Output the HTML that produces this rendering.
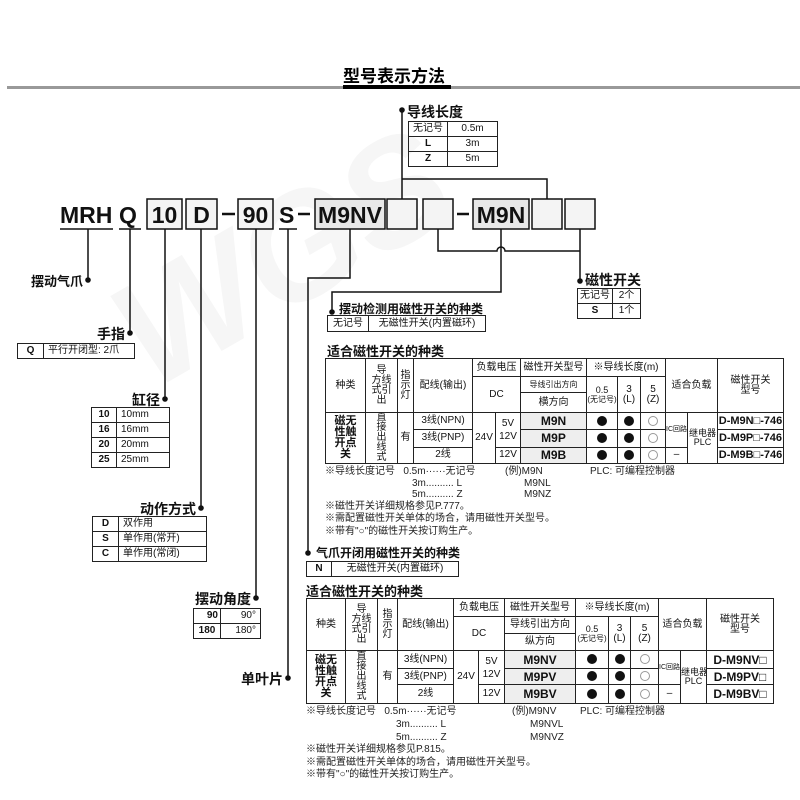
<!DOCTYPE html>
<html><head><meta charset="utf-8"><style>
*{margin:0;padding:0;box-sizing:border-box}
body{width:800px;height:800px;background:#fff;position:relative;overflow:hidden;font-family:"Liberation Sans","Noto Sans CJK SC",sans-serif;color:#111}
svg.l{position:absolute;left:0;top:0}
table{position:absolute;border-collapse:collapse;table-layout:fixed;font-size:10px;line-height:1}
td{border:1px solid #222;text-align:center;vertical-align:middle;padding:0;overflow:hidden;white-space:nowrap}
td.b{font-weight:bold}
td.l{text-align:left;padding-left:4px}
td.r{text-align:right;padding-right:4px}
.t{position:absolute;white-space:nowrap;font-size:10px;line-height:12px;color:#222}
.big td{font-size:10px}
.sh{background:#eee}
i.f,i.o{display:inline-block;width:10px;height:10px;border-radius:50%;vertical-align:middle}
i.f{background:#111}
i.o{border:1px solid #999}
</style></head><body>
<svg class="l" width="800" height="800" viewBox="0 0 800 800">
<g fill="#f6f6f6" font-family="Liberation Sans" font-weight="bold" font-style="italic">
<text x="120" y="330" font-size="150" transform="rotate(-30 250 300)">WGS</text>
</g>
<rect x="7" y="86" width="793" height="3" fill="#999"/>
<rect x="343" y="85" width="108" height="4" fill="#000"/>
<text x="343" y="82" font-size="17" font-weight="bold" font-family="Liberation Sans,Noto Sans CJK SC,sans-serif">型号表示方法</text>
<g font-family="Liberation Sans,sans-serif" font-weight="bold" font-size="23" fill="#111">
<rect x="147" y="199" width="35" height="30" fill="#f4f4f4" stroke="#111" stroke-width="1.5"/>
<rect x="186" y="199" width="31" height="30" fill="#f4f4f4" stroke="#111" stroke-width="1.5"/>
<rect x="238" y="199" width="35" height="30" fill="#f4f4f4" stroke="#111" stroke-width="1.5"/>
<rect x="315" y="199" width="70" height="30" fill="#e8e8e8" stroke="#111" stroke-width="1.5"/>
<rect x="387" y="199" width="30" height="30" fill="#f4f4f4" stroke="#111" stroke-width="1.5"/>
<rect x="423" y="199" width="30" height="30" fill="#f4f4f4" stroke="#111" stroke-width="1.5"/>
<rect x="473" y="199" width="56" height="30" fill="#e8e8e8" stroke="#111" stroke-width="1.5"/>
<rect x="532" y="199" width="30" height="30" fill="#f4f4f4" stroke="#111" stroke-width="1.5"/>
<rect x="565" y="199" width="30" height="30" fill="#f4f4f4" stroke="#111" stroke-width="1.5"/>
<text x="60" y="223">MRH</text>
<text x="119" y="223">Q</text>
<text x="164.5" y="223" text-anchor="middle">10</text>
<text x="201.5" y="223" text-anchor="middle">D</text>
<text x="255.5" y="223" text-anchor="middle">90</text>
<text x="279" y="223">S</text>
<text x="350" y="223" text-anchor="middle">M9NV</text>
<text x="501" y="223" text-anchor="middle">M9N</text>
</g>
<g stroke="#111" stroke-width="2.5">
<line x1="222" y1="214" x2="235" y2="214"/>
<line x1="298" y1="214" x2="310" y2="214"/>
<line x1="457" y1="214" x2="469" y2="214"/>
</g>
<g stroke="#111" stroke-width="1.5" fill="none">
<line x1="60" y1="229" x2="113" y2="229"/>
<line x1="119" y1="229" x2="141" y2="229"/>
<line x1="279" y1="229" x2="297" y2="229"/>
<line x1="88" y1="229" x2="88" y2="280"/>
<line x1="130" y1="229" x2="130" y2="333"/>
<line x1="165" y1="229" x2="165" y2="399"/>
<line x1="201" y1="229" x2="201" y2="508"/>
<line x1="256" y1="229" x2="256" y2="598"/>
<line x1="288" y1="229" x2="288" y2="678"/>
<path d="M350 229V278H308V553"/>
<path d="M402 110V199M402 179H547V199"/>
<path d="M438 229V251H497a4 4 0 0 1 8 0H580M580 229V281"/>
<path d="M501 229V292H332V312"/>
</g>
<g fill="#111">
<circle cx="88" cy="280" r="2.8"/><circle cx="130" cy="333" r="2.8"/><circle cx="165" cy="399" r="2.8"/>
<circle cx="201" cy="508" r="2.8"/><circle cx="256" cy="598" r="2.8"/><circle cx="288" cy="678" r="2.8"/>
<circle cx="308" cy="553" r="2.8"/><circle cx="402" cy="110" r="2.8"/><circle cx="580" cy="281" r="2.8"/>
<circle cx="332" cy="312" r="2.8"/>
</g>
<g font-family="Liberation Sans,Noto Sans CJK SC,sans-serif" font-weight="bold" fill="#111">
<text x="83" y="286" font-size="13" text-anchor="end">摆动气爪</text>
<text x="125" y="339" font-size="14" text-anchor="end">手指</text>
<text x="160" y="405" font-size="14" text-anchor="end">缸径</text>
<text x="196" y="514" font-size="14" text-anchor="end">动作方式</text>
<text x="251" y="604" font-size="14" text-anchor="end">摆动角度</text>
<text x="283" y="684" font-size="14" text-anchor="end">单叶片</text>
<text x="407" y="117" font-size="14">导线长度</text>
<text x="585" y="285" font-size="14">磁性开关</text>
<text x="339" y="313" font-size="12">摆动检测用磁性开关的种类</text>
<text x="316" y="557" font-size="12">气爪开闭用磁性开关的种类</text>
<text x="327" y="356" font-size="13">适合磁性开关的种类</text>
<text x="306" y="596" font-size="13">适合磁性开关的种类</text>
</g>
</svg>

<table style="left:17px;top:343px;width:117px"><col style="width:26px"><col style="width:91px"><tr style="height:15px"><td class="b">Q</td><td class="l">平行开闭型: 2爪</td></tr></table>
<table style="left:91px;top:407px;width:78px"><col style="width:25px"><col style="width:53px">
<tr style="height:15px"><td class="b">10</td><td class="l">10mm</td></tr><tr style="height:15px"><td class="b">16</td><td class="l">16mm</td></tr><tr style="height:15px"><td class="b">20</td><td class="l">20mm</td></tr><tr style="height:15px"><td class="b">25</td><td class="l">25mm</td></tr></table>
<table style="left:92px;top:516px;width:114px"><col style="width:26px"><col style="width:88px">
<tr style="height:15px"><td class="b">D</td><td class="l">双作用</td></tr><tr style="height:15px"><td class="b">S</td><td class="l">单作用(常开)</td></tr><tr style="height:15px"><td class="b">C</td><td class="l">单作用(常闭)</td></tr></table>
<table style="left:193px;top:608px;width:67px"><col style="width:27px"><col style="width:40px">
<tr style="height:15px"><td class="b r" style="padding-right:2px">90</td><td class="r">90°</td></tr><tr style="height:15px"><td class="b">180</td><td class="r">180°</td></tr></table>
<table style="left:408px;top:121px;width:89px"><col style="width:39px"><col style="width:50px">
<tr style="height:15px"><td>无记号</td><td>0.5m</td></tr><tr style="height:15px"><td class="b">L</td><td>3m</td></tr><tr style="height:15px"><td class="b">Z</td><td>5m</td></tr></table>
<table style="left:577px;top:288px;width:63px"><col style="width:35px"><col style="width:28px">
<tr style="height:15px"><td>无记号</td><td>2个</td></tr><tr style="height:15px"><td class="b">S</td><td>1个</td></tr></table>
<table style="left:327px;top:315px;width:158px"><col style="width:41px"><col style="width:117px">
<tr style="height:16px"><td>无记号</td><td>无磁性开关(内置磁环)</td></tr></table>
<table style="left:306px;top:561px;width:152px"><col style="width:25px"><col style="width:127px">
<tr style="height:15px"><td class="b">N</td><td>无磁性开关(内置磁环)</td></tr></table>

<table class="big" style="left:325px;top:358px;width:458px">
<col style="width:40px"><col style="width:32px"><col style="width:16px"><col style="width:59px"><col style="width:23px"><col style="width:25px"><col style="width:66px"><col style="width:31px"><col style="width:23px"><col style="width:25px"><col style="width:22px"><col style="width:30px"><col style="width:66px">
<tr style="height:18px"><td rowspan="3">种类</td><td rowspan="3" style="line-height:10px">导<br>方线<br>式引<br>出</td><td rowspan="3" style="line-height:10px">指<br>示<br>灯</td><td rowspan="3">配线(输出)</td><td colspan="2">负载电压</td><td>磁性开关型号</td><td colspan="3">※导线长度(m)</td><td colspan="2" rowspan="3">适合负载</td><td rowspan="3">磁性开关<br>型号</td></tr>
<tr style="height:16px"><td colspan="2" rowspan="2">DC</td><td style="font-size:8px">导线引出方向</td><td rowspan="2" style="font-size:9px">0.5<br><span style="font-size:8px">(无记号)</span></td><td rowspan="2">3<br>(L)</td><td rowspan="2">5<br>(Z)</td></tr>
<tr style="height:20px"><td>横方向</td></tr>
<tr style="height:17px"><td rowspan="3" class="b" style="font-size:11px;line-height:11px">磁无<br>性触<br>开点<br>关</td><td rowspan="3" style="line-height:10px">直<br>接<br>出<br>线<br>式</td><td rowspan="3">有</td><td>3线(NPN)</td><td rowspan="3">24V</td><td rowspan="2" style="line-height:13px">5V<br>12V</td><td class="b sh" style="font-size:12px">M9N</td><td><i class="f"></i></td><td><i class="f"></i></td><td><i class="o"></i></td><td rowspan="2" style="font-size:7px">IC回路</td><td rowspan="3" style="font-size:9px">继电器<br>PLC</td><td class="b" style="font-size:11px">D-M9N□-746</td></tr>
<tr style="height:17px"><td>3线(PNP)</td><td class="b sh" style="font-size:12px">M9P</td><td><i class="f"></i></td><td><i class="f"></i></td><td><i class="o"></i></td><td class="b" style="font-size:11px">D-M9P□-746</td></tr>
<tr style="height:16px"><td>2线</td><td>12V</td><td class="b sh" style="font-size:12px">M9B</td><td><i class="f"></i></td><td><i class="f"></i></td><td><i class="o"></i></td><td>–</td><td class="b" style="font-size:11px">D-M9B□-746</td></tr>
</table>

<table class="big" style="left:306px;top:598px;width:467px">
<col style="width:39px"><col style="width:32px"><col style="width:20px"><col style="width:56px"><col style="width:25px"><col style="width:26px"><col style="width:71px"><col style="width:33px"><col style="width:22px"><col style="width:28px"><col style="width:22px"><col style="width:26px"><col style="width:67px">
<tr style="height:18px"><td rowspan="3">种类</td><td rowspan="3" style="line-height:10px">导<br>方线<br>式引<br>出</td><td rowspan="3" style="line-height:10px">指<br>示<br>灯</td><td rowspan="3">配线(输出)</td><td colspan="2">负载电压</td><td>磁性开关型号</td><td colspan="3">※导线长度(m)</td><td colspan="2" rowspan="3">适合负载</td><td rowspan="3">磁性开关<br>型号</td></tr>
<tr style="height:17px"><td colspan="2" rowspan="2">DC</td><td>导线引出方向</td><td rowspan="2" style="font-size:9px">0.5<br><span style="font-size:8px">(无记号)</span></td><td rowspan="2">3<br>(L)</td><td rowspan="2">5<br>(Z)</td></tr>
<tr style="height:17px"><td>纵方向</td></tr>
<tr style="height:18px"><td rowspan="3" class="b" style="font-size:11px;line-height:11px">磁无<br>性触<br>开点<br>关</td><td rowspan="3" style="line-height:10px">直<br>接<br>出<br>线<br>式</td><td rowspan="3">有</td><td>3线(NPN)</td><td rowspan="3">24V</td><td rowspan="2" style="line-height:13px">5V<br>12V</td><td class="b sh" style="font-size:12px">M9NV</td><td><i class="f"></i></td><td><i class="f"></i></td><td><i class="o"></i></td><td rowspan="2" style="font-size:7px">IC回路</td><td rowspan="3" style="font-size:9px">继电器<br>PLC</td><td class="b" style="font-size:12px">D-M9NV□</td></tr>
<tr style="height:16px"><td>3线(PNP)</td><td class="b sh" style="font-size:12px">M9PV</td><td><i class="f"></i></td><td><i class="f"></i></td><td><i class="o"></i></td><td class="b" style="font-size:12px">D-M9PV□</td></tr>
<tr style="height:19px"><td>2线</td><td>12V</td><td class="b sh" style="font-size:12px">M9BV</td><td><i class="f"></i></td><td><i class="f"></i></td><td><i class="o"></i></td><td>–</td><td class="b" style="font-size:12px">D-M9BV□</td></tr>
</table>

<div class="t" style="left:325px;top:466px">※导线长度记号&nbsp;&nbsp;&nbsp;0.5m······无记号</div>
<div class="t" style="left:412px;top:478px">3m.......... L</div>
<div class="t" style="left:412px;top:489px">5m.......... Z</div>
<div class="t" style="left:505px;top:466px">(例)M9N</div>
<div class="t" style="left:524px;top:478px">M9NL</div>
<div class="t" style="left:524px;top:489px">M9NZ</div>
<div class="t" style="left:590px;top:466px">PLC: 可编程控制器</div>
<div class="t" style="left:325px;top:501px">※磁性开关详细规格参见P.777。</div>
<div class="t" style="left:325px;top:513px">※需配置磁性开关单体的场合，请用磁性开关型号。</div>
<div class="t" style="left:325px;top:526px">※带有"○"的磁性开关按订购生产。</div>

<div class="t" style="left:306px;top:706px">※导线长度记号&nbsp;&nbsp;&nbsp;0.5m······无记号</div>
<div class="t" style="left:396px;top:719px">3m.......... L</div>
<div class="t" style="left:396px;top:732px">5m.......... Z</div>
<div class="t" style="left:512px;top:706px">(例)M9NV</div>
<div class="t" style="left:530px;top:719px">M9NVL</div>
<div class="t" style="left:530px;top:732px">M9NVZ</div>
<div class="t" style="left:580px;top:706px">PLC: 可编程控制器</div>
<div class="t" style="left:306px;top:744px">※磁性开关详细规格参见P.815。</div>
<div class="t" style="left:306px;top:757px">※需配置磁性开关单体的场合，请用磁性开关型号。</div>
<div class="t" style="left:306px;top:769px">※带有"○"的磁性开关按订购生产。</div>
</body></html>
